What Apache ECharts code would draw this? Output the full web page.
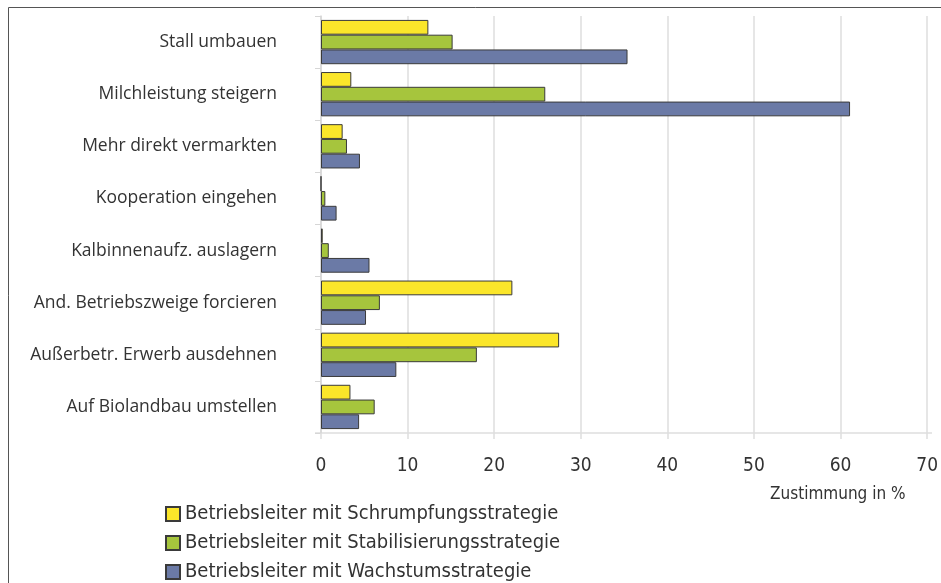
<!DOCTYPE html>
<html>
<head>
<meta charset="utf-8">
<script src="https://cdn.jsdelivr.net/npm/echarts@6/dist/echarts.min.js"></script>
<style>
  html, body { margin: 0; padding: 0; background: #fff; }
  #bars { width: 941px; height: 583px; }
</style>
</head>
<body>
<div id="bars"></div>
<script>
// Kategorien von oben nach unten
var categories = ['Stall umbauen', 'Milchleistung steigern', 'Mehr direkt vermarkten', 'Kooperation eingehen',
  'Kalbinnenaufz. auslagern', 'And. Betriebszweige forcieren', 'Außerbetr. Erwerb ausdehnen', 'Auf Biolandbau umstellen'];
var seriesNames = ['Betriebsleiter mit Schrumpfungsstrategie', 'Betriebsleiter mit Stabilisierungsstrategie',
  'Betriebsleiter mit Wachstumsstrategie'];
var schrumpfung = [12.4, 3.5, 2.5, 0, 0.2, 22.1, 27.5, 3.4];
var stabilisierung = [15.2, 25.9, 3.0, 0.5, 0.9, 6.8, 18.0, 6.2];
var wachstum = [35.4, 61.1, 4.5, 1.8, 5.6, 5.2, 8.7, 4.4];
var xTicks = [0, 10, 20, 30, 40, 50, 60, 70];

var colors = ['#fbe62a', '#a6c53d', '#6b7aa6'];
var narrow = '"Liberation Sans Narrow", "DejaVu Sans Condensed", sans-serif';

var chart = echarts.init(document.getElementById('bars'));

function makeSeries(name, data, color) {
  return {
    name: name,
    type: 'bar',
    data: data,
    barGap: '0%',
    barCategoryGap: '15%',
    itemStyle: { color: color, borderColor: '#3a3a3a', borderWidth: 1 },
    emphasis: { disabled: true }
  };
}

var option = {
  backgroundColor: '#fff',
  animation: false,
  grid: { left: 321, right: 9, top: 16, bottom: 150 },
  xAxis: {
    type: 'value',
    min: xTicks[0],
    max: xTicks[xTicks.length - 1],
    interval: 10,
    axisLine: { show: false },
    axisTick: { show: true, length: 6, lineStyle: { color: '#dedede', width: 1.5 } },
    axisLabel: { color: '#333', fontSize: 19, fontFamily: narrow, margin: 24 },
    splitLine: { show: true, lineStyle: { color: '#dedede', width: 1.5 } }
  },
  yAxis: {
    type: 'category',
    data: categories,
    inverse: true,
    axisLine: { show: true, lineStyle: { color: '#d6d6d6', width: 1.5 } },
    axisTick: { show: true, length: 6, lineStyle: { color: '#d6d6d6' } },
    axisLabel: { color: '#333', fontSize: 17.5, fontFamily: '"Open Sans", sans-serif', margin: 44 }
  },
  legend: {
    orient: 'vertical',
    left: 160,
    top: 499,
    height: 100,
    itemWidth: 14,
    itemHeight: 14,
    itemGap: 9,
    icon: 'rect',
    textStyle: { color: '#333', fontSize: 20, fontFamily: narrow },
    data: seriesNames,
    selectedMode: false
  },
  graphic: [
    { type: 'rect', shape: { x: 8.5, y: 7.5, width: 1000, height: 1000 },
      style: { fill: 'none', stroke: '#555', lineWidth: 1 }, silent: true },
    { type: 'line', shape: { x1: 315, y1: 433, x2: 932, y2: 433 },
      style: { stroke: '#dedede', lineWidth: 1.5 }, silent: true },
    { type: 'text', left: 770, top: 486,
      style: { text: 'Zustimmung in %', fill: '#333', font: '17px ' + narrow }, silent: true }
  ],
  series: [
    makeSeries(seriesNames[0], schrumpfung, colors[0]),
    makeSeries(seriesNames[1], stabilisierung, colors[1]),
    makeSeries(seriesNames[2], wachstum, colors[2])
  ]
};

chart.setOption(option);
</script>
</body>
</html>
